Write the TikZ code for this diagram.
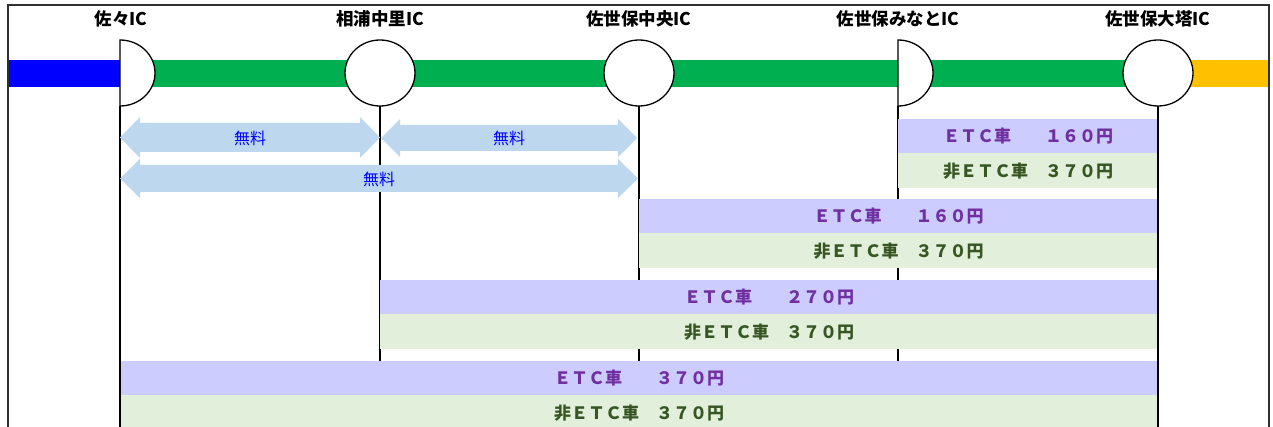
\documentclass[tikz,border=0pt]{standalone}
\usepackage{fontspec}
\newfontfamily\jp{Noto Sans CJK JP}
\usetikzlibrary{shapes.geometric}
\definecolor{framecol}{HTML}{303030}
\definecolor{roadblue}{HTML}{0000FF}
\definecolor{roadgreen}{HTML}{00B050}
\definecolor{roadyellow}{HTML}{FFC000}
\definecolor{freebg}{HTML}{BDD7EE}
\definecolor{freetxt}{HTML}{0000FF}
\definecolor{etcbg}{HTML}{CCCCFF}
\definecolor{nonbg}{HTML}{E2EFDA}
\definecolor{etctxt}{HTML}{7030A0}
\definecolor{nontxt}{HTML}{375623}
\begin{document}
\begin{tikzpicture}[x=1pt,y=-1pt,
  icfull/.style={ellipse,draw=black,line width=1.3pt,fill=white,minimum width=70pt,minimum height=66pt,inner sep=0pt},
  ichalf/.style={draw=black,line width=1.3pt,fill=white},
  iclabel/.style={font=\jp\bfseries\fontsize{17.5}{17.5}\selectfont,text=black,inner sep=0pt},
  vline/.style={draw=black,line width=1.1pt},
  freearrow/.style={fill=freebg},
  freelabel/.style={font=\jp\fontsize{16}{16}\selectfont,text=freetxt,inner sep=0pt},
  etcbar/.style={rectangle,fill=etcbg,anchor=north west,minimum height=34pt,inner sep=0pt,text=etctxt,font=\jp\bfseries\fontsize{17}{17}\selectfont},
  nonbar/.style={rectangle,fill=nonbg,anchor=north west,minimum height=35pt,inner sep=0pt,text=nontxt,font=\jp\bfseries\fontsize{17}{17}\selectfont},
  framestyle/.style={draw=framecol,line width=2pt}
]
\useasboundingbox (0,0) rectangle (1273,427);
\fill[white] (0,0) rectangle (1273,427);

% road
\fill[roadblue] (8,60) rectangle (120,87);
\fill[roadgreen] (120,60) rectangle (1158,87);
\fill[roadyellow] (1158,60) rectangle (1269,87);

% coordinates
\coordinate (sasa) at (120,73);
\coordinate (minato) at (898,73);
\coordinate (endshort) at (0,361);
\coordinate (endlong) at (0,430);

% vertical lines
\draw[vline] (120,106) -- (sasa |- endlong);
\draw[vline] (380,106) -- (380,361);
\draw[vline] (639,106) -- (639,361);
\draw[vline] (898,106) -- (minato |- endshort);
\draw[vline] (1158,106) -- (1158,430);

% interchanges
\draw[ichalf] (120,40) -- (120,106) arc[start angle=90,end angle=-90,x radius=35,y radius=33] -- cycle;
\draw[ichalf] (898,40) -- (898,106) arc[start angle=90,end angle=-90,x radius=35,y radius=33] -- cycle;
\node[icfull] (aiura) at (380,73) {};
\node[icfull] (chuo) at (639,73) {};
\node[icfull] (oto) at (1158,73) {};

% labels
\node[iclabel] (lsasa) at (121,19) {佐々IC};
\node[iclabel] (laiura) at (380,19) {相浦中里IC};
\node[iclabel] (lchuo) at (639,19) {佐世保中央IC};
\node[iclabel] (lminato) at (898,19) {佐世保みなとIC};
\node[iclabel] (loto) at (1158,19) {佐世保大塔IC};

% free arrows
\fill[freearrow] (120,137.5) -- (140,117) -- (140,123) -- (360,123) -- (360,117) -- (380,137.5) -- (360,158) -- (360,152) -- (140,152) -- (140,158) -- cycle;
\node[freelabel] (free1) at (250,138) {無料};
\fill[freearrow] (381,138) -- (400,119) -- (400,125) -- (618,125) -- (618,119) -- (637,138) -- (618,157) -- (618,151) -- (400,151) -- (400,157) -- cycle;
\node[freelabel] (free2) at (509,138) {無料};
\fill[freearrow] (120,178.5) -- (140,159) -- (140,165) -- (618,165) -- (618,159) -- (638,178.5) -- (618,198) -- (618,192) -- (140,192) -- (140,198) -- cycle;
\node[freelabel] (free3) at (379,179) {無料};

% fare bars
\node[etcbar,minimum width=260pt] (m1) at (898,119) {ＥＴＣ車　　１６０円};
\node[nonbar,minimum width=260pt] (m2) at (898,153) {非ＥＴＣ車　３７０円};
\node[etcbar,minimum width=519pt] (c1) at (639,199) {ＥＴＣ車　　１６０円};
\node[nonbar,minimum width=519pt] (c2) at (639,233) {非ＥＴＣ車　３７０円};
\node[etcbar,minimum width=778pt] (a1) at (380,280) {ＥＴＣ車　　２７０円};
\node[nonbar,minimum width=778pt] (a2) at (380,314) {非ＥＴＣ車　３７０円};
\node[etcbar,minimum width=1038pt] (s1) at (120,361) {ＥＴＣ車　　３７０円};
\node[nonbar,minimum width=1038pt] (s2) at (120,395) {非ＥＴＣ車　３７０円};

% bar edge lines
\draw[vline] (120,361) -- (120,430);
\draw[vline] (1158,119) -- (1158,430);

% frame
\draw[framestyle] (8,430) -- (8,5) -- (1269,5) -- (1269,430);
\end{tikzpicture}
\end{document}
